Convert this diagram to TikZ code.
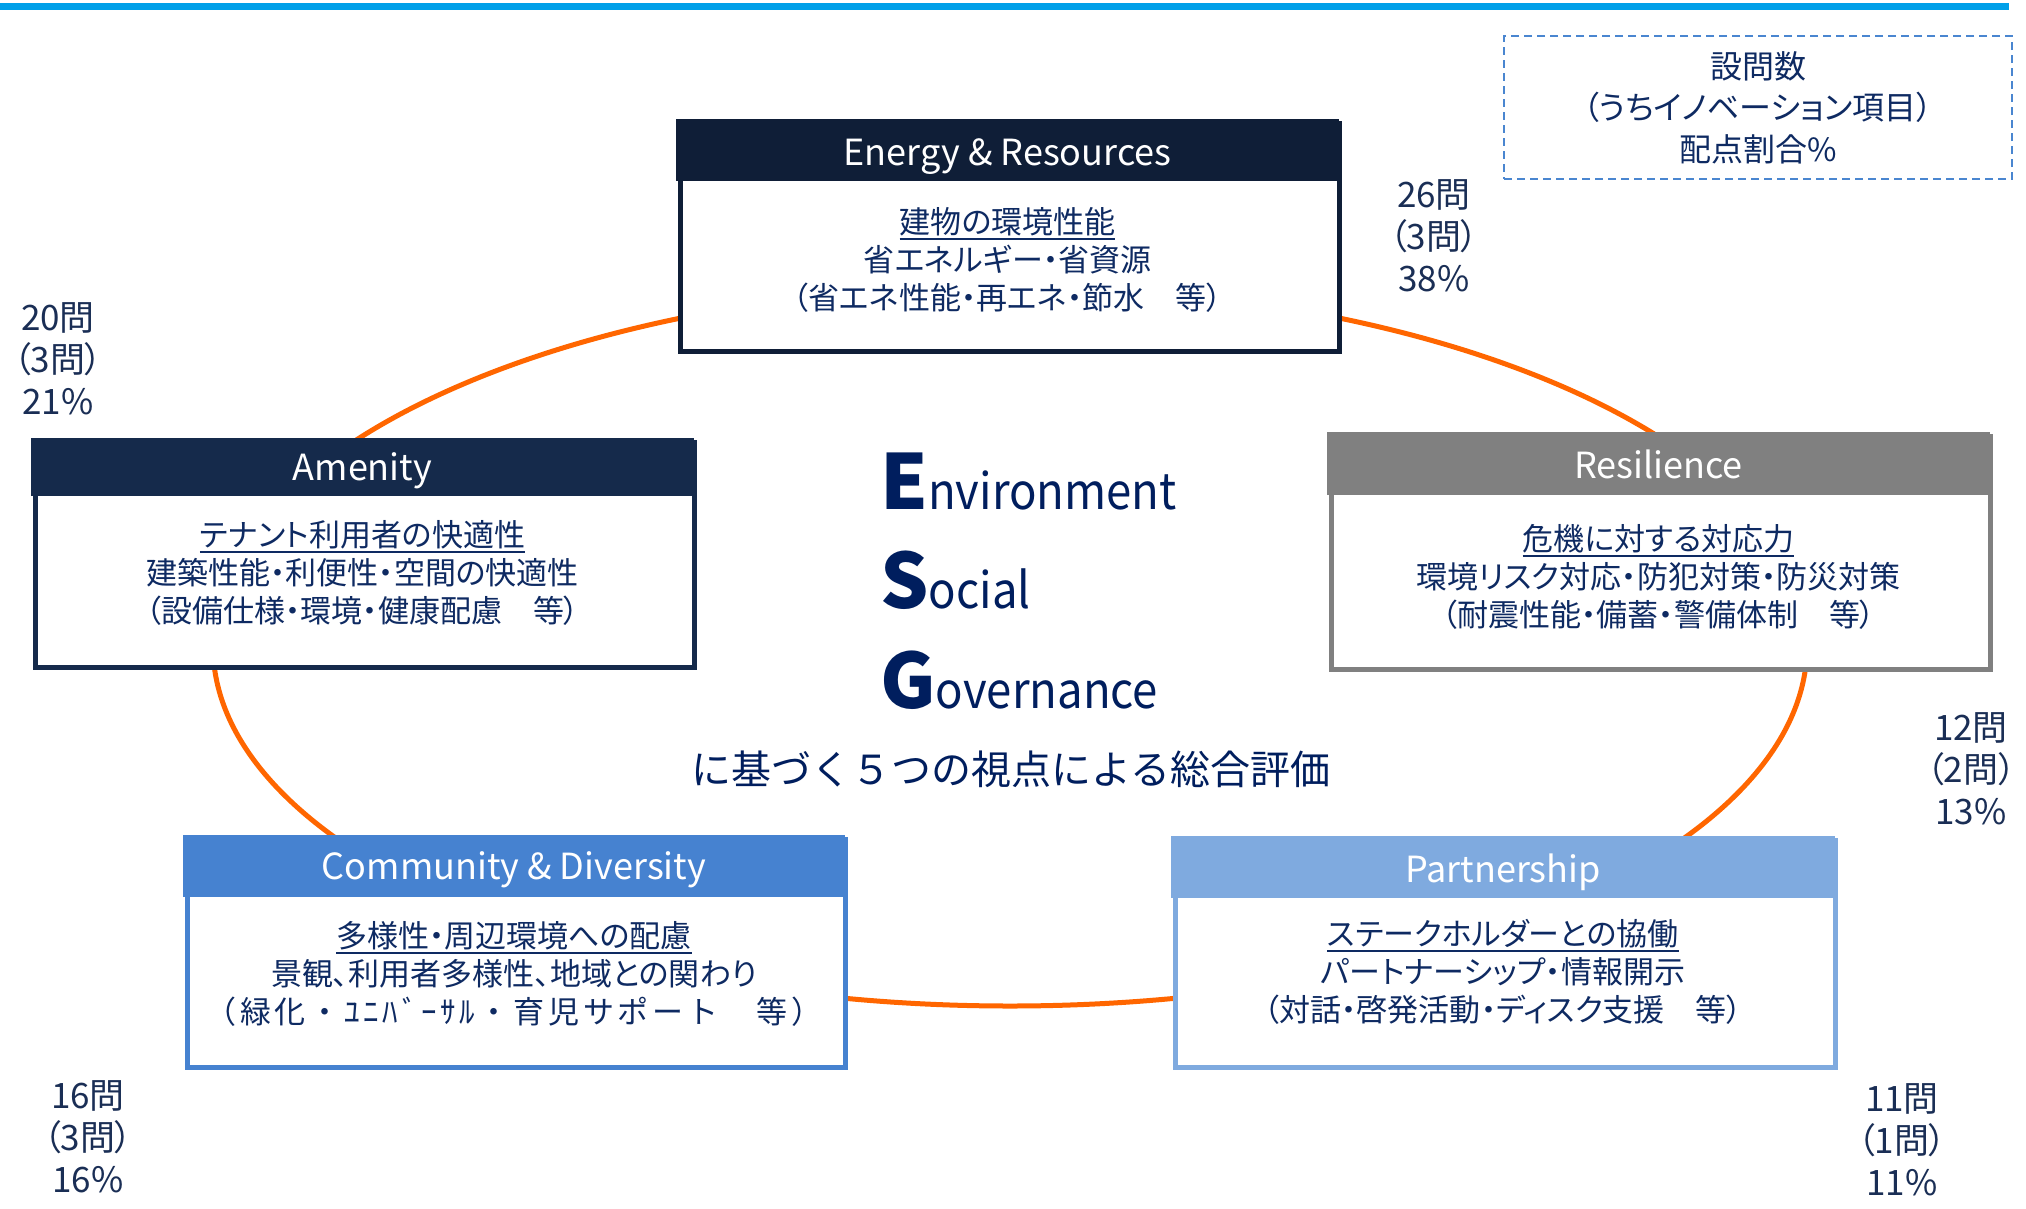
\documentclass[tikz,border=0pt]{standalone}
\usepackage{fontspec}
\setmainfont{Noto Sans CJK JP}[RawFeature=+palt]
\newfontfamily\fixedjp{Noto Sans CJK JP}
\newfontfamily\spacedjp{Noto Sans CJK JP}[LetterSpace=12]
\newfontfamily\esgfont{Noto Sans CJK JP}[FakeStretch=0.91]
\definecolor{topbar}{HTML}{00A0E9}
\definecolor{navytext}{HTML}{0E2A62}
\definecolor{labeltext}{HTML}{1A2E55}
\definecolor{esgnavy}{HTML}{001E5E}
\definecolor{energyc}{HTML}{0F1E37}
\definecolor{amenityc}{HTML}{152A4B}
\definecolor{resilc}{HTML}{808080}
\definecolor{commc}{HTML}{4682D0}
\definecolor{partc}{HTML}{7FAADF}
\definecolor{ringc}{HTML}{FF6600}
\definecolor{dashc}{HTML}{4A86D0}
\newcommand\myul[1]{\setbox0\hbox{#1}\rlap{\rule[-7pt]{\wd0}{2pt}}\box0}
\begin{document}
\begin{tikzpicture}[x=1pt,y=-1pt,
  boxbody/.style={draw=#1, line width=4.5pt, fill=white, rectangle, inner sep=0pt, anchor=north west},
  boxhead/.style={fill=#1, rectangle, inner sep=0pt, anchor=north},
  headtitle/.style={text=white, inner sep=0pt, anchor=base, font=\fontsize{36}{36}\selectfont},
  bodytext/.style={text=navytext, align=center, inner sep=0pt, font=\fontsize{31}{38}\selectfont},
  numlabel/.style={text=labeltext, align=center, inner sep=0pt, font=\fontsize{35}{42}\selectfont},
  bigletter/.style={anchor=base west, inner sep=0pt, text=esgnavy},
  ring/.style={draw=ringc, line width=5pt}
]
\useasboundingbox (0,0) rectangle (2026,1208);
\fill[white] (0,0) rectangle (2026,1208);
% top bar
\fill[topbar] (0,3) rectangle (2009,10);
% ring
\coordinate (ringc) at (1010,646);
\draw[ring] (ringc) ellipse [x radius=797, y radius=360];

% Energy & Resources
\node[boxbody=energyc, minimum width=659pt, minimum height=228pt] (energy) at (678,121) {};
\node[boxhead=energyc, minimum width=663pt, minimum height=62pt] (energyH) at (1007.5,119) {};
\node[headtitle] (energyN) at (1007.5,165) {Energy \& Resources};
\node[bodytext] (energyT) at (1007.5,259.5) {\myul{建物の環境性能}\\省エネルギー・省資源\\（省エネ性能・再エネ・節水　等）};

% Amenity
\node[boxbody=amenityc, minimum width=659pt, minimum height=225pt] (amenity) at (33,440) {};
\node[boxhead=amenityc, minimum width=663pt, minimum height=58pt] (amenityH) at (362.5,438) {};
\node[headtitle] (amenityN) at (362.5,480) {Amenity};
\node[bodytext] (amenityT) at (362.5,572.5) {\myul{テナント利用者の快適性}\\建築性能・利便性・空間の快適性\\（設備仕様・環境・健康配慮　等）};

% Resilience
\node[boxbody=resilc, minimum width=659pt, minimum height=233pt] (resil) at (1329,434) {};
\node[boxhead=resilc, minimum width=663pt, minimum height=63pt] (resilH) at (1658.5,432) {};
\node[headtitle] (resilN) at (1658.5,478) {Resilience};
\node[bodytext] (resilT) at (1658.5,576.5) {\myul{危機に対する対応力}\\環境リスク対応・防犯対策・防災対策\\（耐震性能・備蓄・警備体制　等）};

% Community & Diversity
\node[boxbody=commc, minimum width=658pt, minimum height=228pt] (comm) at (185,837) {};
\node[boxhead=commc, minimum width=662pt, minimum height=62pt] (commH) at (514,835) {};
\node[headtitle] (commN) at (514,879) {Community \& Diversity};
\node[bodytext] (commT) at (514,973.5) {\myul{多様性・周辺環境への配慮}\\景観、利用者多様性、地域との関わり\\{\spacedjp （緑化・ﾕﾆﾊﾞｰｻﾙ・育児サポート　等）}};

% Partnership
\node[boxbody=partc, minimum width=660pt, minimum height=227pt] (part) at (1173,838) {};
\node[boxhead=partc, minimum width=664pt, minimum height=62pt] (partH) at (1503,836) {};
\node[headtitle] (partN) at (1503,882) {Partnership};
\node[bodytext] (partT) at (1503,971.5) {\myul{ステークホルダーとの協働}\\パートナーシップ・情報開示\\（対話・啓発活動・ディスク支援　等）};

% legend box
\node[draw=dashc, dashed, dash pattern=on 8pt off 5pt, line width=2.5pt, minimum width=508pt, minimum height=143pt, inner sep=0pt,
      text=navytext, align=center, font=\fontsize{32}{41.5}\selectfont] (legend) at (1758,107.5) {設問数\\（うちイノベーション項目）\\配点割合\%};

% ESG
\node[bigletter] (esgE) at (880,509) {\fontsize{76}{76}\selectfont\bfseries E\mdseries\esgfont\fontsize{50}{50}\selectfont nvironment};
\node[bigletter] (esgS) at (880,608) {\fontsize{76}{76}\selectfont\bfseries S\mdseries\esgfont\fontsize{50}{50}\selectfont ocial};
\node[bigletter] (esgG) at (880,708) {\fontsize{76}{76}\selectfont\bfseries G\mdseries\esgfont\fontsize{50}{50}\selectfont overnance};
\node[inner sep=0pt, text=esgnavy, font=\fixedjp\fontsize{40}{40}\selectfont] (esgsub) at (1011,769) {に基づく５つの視点による総合評価};

% counts
\node[numlabel] (cntE) at (1434,236) {26問\\（3問）\\38\%};
\node[numlabel] (cntA) at (58,359) {20問\\（3問）\\21\%};
\node[numlabel] (cntR) at (1971,769) {12問\\\makebox[0pt][c]{（2問）}\\13\%};
\node[numlabel] (cntC) at (88,1137) {16問\\（3問）\\16\%};
\node[numlabel] (cntP) at (1902,1140) {11問\\（1問）\\11\%};
\end{tikzpicture}
\end{document}
